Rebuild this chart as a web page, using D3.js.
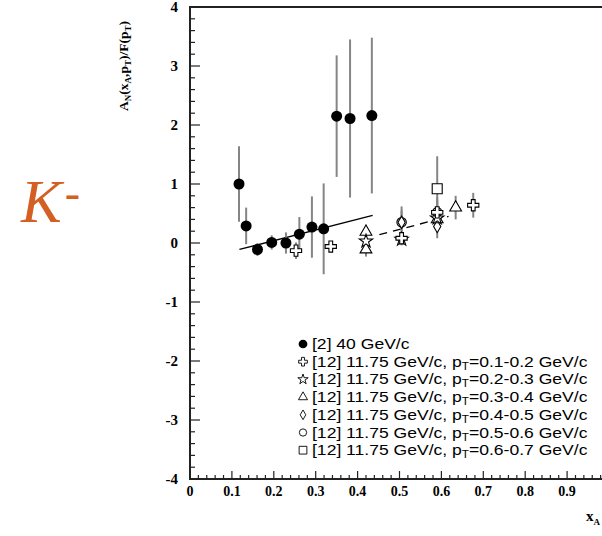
<!DOCTYPE html>
<html>
<head>
<meta charset="utf-8">
<script src="https://cdn.jsdelivr.net/npm/d3@7"></script>
<style>
  html, body { margin: 0; padding: 0; background: #fff; }
  svg { display: block; }
</style>
</head>
<body>
<svg id="chart" width="602" height="536"></svg>
<script>
// Axis domains and tick values
const xDomain = [0, 1];
const yDomain = [-4, 4];
const xTickLabels = ["0", "0.1", "0.2", "0.3", "0.4", "0.5", "0.6", "0.7", "0.8", "0.9"];
const yTickLabels = ["-4", "-3", "-2", "-1", "0", "1", "2", "3", "4"];

// [2] 40 GeV/c : x, A_N, error
const e704X   = [0.117, 0.134, 0.161, 0.195, 0.229, 0.261, 0.291, 0.319, 0.350, 0.382, 0.434];
const e704Y   = [1.00, 0.29, -0.11, 0.01, 0.00, 0.15, 0.27, 0.24, 2.15, 2.11, 2.16];
const e704Err = [0.64, 0.31, 0.11, 0.12, 0.18, 0.29, 0.52, 0.77, 1.03, 1.34, 1.32];

// [12] 11.75 GeV/c, one set per pT bin
const pt1X = [0.253, 0.336, 0.505, 0.590, 0.676];
const pt1Y = [-0.13, -0.06, 0.08, 0.52, 0.64];
const pt1E = [0.14, 0.06, 0.10, 0.20, 0.21];

const pt2X = [0.420, 0.505, 0.590];
const pt2Y = [0.03, 0.06, 0.42];
const pt2E = [0.10, 0.10, 0.20];

const pt3X = [0.420, 0.420, 0.590, 0.634];
const pt3Y = [0.19, -0.11, 0.40, 0.60];
const pt3E = [0.12, 0.12, 0.20, 0.20];

const pt4X = [0.505, 0.590];
const pt4Y = [0.35, 0.28];
const pt4E = [0.20, 0.20];

const pt5X = [0.505, 0.590];
const pt5Y = [0.35, 0.52];
const pt5E = [0.27, 0.25];

const pt6X = [0.590];
const pt6Y = [0.92];
const pt6E = [0.55];

// Linear fits: solid through the 40 GeV/c points, dashed through 11.75 GeV/c
const fitSolidX = [0.118, 0.436];
const fitSolidY = [-0.11, 0.47];
const fitDashX  = [0.452, 0.617];
const fitDashY  = [0.14, 0.45];

const legendLabels = [
  "[2] 40 GeV/c",
  "[12] 11.75 GeV/c, p|T|=0.1-0.2 GeV/c",
  "[12] 11.75 GeV/c, p|T|=0.2-0.3 GeV/c",
  "[12] 11.75 GeV/c, p|T|=0.3-0.4 GeV/c",
  "[12] 11.75 GeV/c, p|T|=0.4-0.5 GeV/c",
  "[12] 11.75 GeV/c, p|T|=0.5-0.6 GeV/c",
  "[12] 11.75 GeV/c, p|T|=0.6-0.7 GeV/c"
];

const svg = d3.select("#chart");
const plotL = 190, plotR = 609, plotT = 7, plotB = 479;
const x = d3.scaleLinear().domain(xDomain).range([plotL, plotR]);
const y = d3.scaleLinear().domain(yDomain).range([plotB, plotT]);

const serif = "'Liberation Serif', 'Times New Roman', serif";
const sans = "'Liberation Sans', Arial, Helvetica, sans-serif";

// Big K- label
const kLabel = svg.append("text")
  .attr("x", 21).attr("y", 222)
  .attr("font-family", serif)
  .attr("font-style", "italic")
  .attr("font-size", 61)
  .attr("fill", "#d35f22");
kLabel.append("tspan").text("K");
kLabel.append("tspan").attr("dx", 3).attr("dy", -14).attr("font-size", 46).attr("font-style", "normal").text("-");

// Frame: left, top, bottom
const frame = svg.append("g").attr("stroke", "#222").attr("stroke-width", 2).attr("fill", "none");
frame.append("line").attr("x1", plotL).attr("x2", plotL).attr("y1", plotT).attr("y2", plotB);
frame.append("line").attr("x1", plotL - 1).attr("x2", 602).attr("y1", plotT).attr("y2", plotT);
frame.append("line").attr("x1", plotL - 1).attr("x2", 602).attr("y1", plotB).attr("y2", plotB);

// Y axis ticks (inward) and labels
const yMinor = d3.range(-4, 4.001, 0.2);
svg.append("g").selectAll("line").data(yMinor).join("line")
  .attr("x1", plotL).attr("x2", d => plotL + (Math.abs(d - Math.round(d)) < 1e-6 ? 10 : 5))
  .attr("y1", d => y(d)).attr("y2", d => y(d))
  .attr("stroke", "#222").attr("stroke-width", 1.2);
svg.append("g").selectAll("text").data(yTickLabels).join("text")
  .attr("x", plotL - 12).attr("y", d => y(+d) + 5)
  .attr("text-anchor", "end")
  .attr("font-family", serif).attr("font-weight", "bold").attr("font-size", 15)
  .text(d => d);

// X axis ticks (inward) and labels
const xMinor = d3.range(0, 1.0001, 0.02);
svg.append("g").selectAll("line").data(xMinor).join("line")
  .attr("x1", d => x(d)).attr("x2", d => x(d))
  .attr("y1", plotB).attr("y2", (d, i) => plotB - (i % 5 === 0 ? 8 : 4))
  .attr("stroke", "#222").attr("stroke-width", 1.2);
svg.append("g").selectAll("text").data(xTickLabels).join("text")
  .attr("x", d => x(+d)).attr("y", 496)
  .attr("text-anchor", "middle")
  .attr("font-family", serif).attr("font-weight", "bold").attr("font-size", 14)
  .text(d => d);

// Axis titles
const xt = svg.append("text").attr("x", 586).attr("y", 521)
  .attr("font-family", serif).attr("font-weight", "bold").attr("font-size", 15);
xt.append("tspan").text("x");
xt.append("tspan").attr("dy", 4).attr("font-size", 9).text("A");

const yt = svg.append("text")
  .attr("transform", "translate(128,66) rotate(-90)")
  .attr("text-anchor", "middle")
  .attr("font-family", serif).attr("font-weight", "bold").attr("font-size", 13.5);
yt.append("tspan").text("A");
yt.append("tspan").attr("dy", 3).attr("font-size", 9).text("N");
yt.append("tspan").attr("dy", -3).text("(x");
yt.append("tspan").attr("dy", 3).attr("font-size", 9).text("A");
yt.append("tspan").attr("dy", -3).text(",p");
yt.append("tspan").attr("dy", 3).attr("font-size", 9).text("T");
yt.append("tspan").attr("dy", -3).text(")/F(p");
yt.append("tspan").attr("dy", 3).attr("font-size", 9).text("T");
yt.append("tspan").attr("dy", -3).text(")");

// Fit lines
const line = d3.line().x(d => x(d[0])).y(d => y(d[1]));
svg.append("path").datum(d3.zip(fitSolidX, fitSolidY)).attr("d", line)
  .attr("stroke", "#000").attr("stroke-width", 1.3).attr("fill", "none");
svg.append("path").datum(d3.zip(fitDashX, fitDashY)).attr("d", line)
  .attr("stroke", "#000").attr("stroke-width", 1.3).attr("fill", "none")
  .attr("stroke-dasharray", "8,6");

// Series definitions: symbol type and size
const series = [
  { xs: e704X, ys: e704Y, es: e704Err, type: d3.symbolCircle, size: 95, filled: true },
  { xs: pt1X, ys: pt1Y, es: pt1E, type: d3.symbolCross, size: 70 },
  { xs: pt2X, ys: pt2Y, es: pt2E, type: d3.symbolStar, size: 55 },
  { xs: pt3X, ys: pt3Y, es: pt3E, type: d3.symbolTriangle, size: 60 },
  { xs: pt4X, ys: pt4Y, es: pt4E, type: d3.symbolDiamond, size: 45 },
  { xs: pt5X, ys: pt5Y, es: pt5E, type: d3.symbolCircle, size: 70 },
  { xs: pt6X, ys: pt6Y, es: pt6E, type: d3.symbolSquare, size: 100 }
];

// Error bars first, then markers
const errG = svg.append("g");
const markG = svg.append("g");
series.forEach(s => {
  const pts = s.xs.map((v, i) => ({ x: v, y: s.ys[i], e: s.es[i] }));
  errG.selectAll(null).data(pts).join("line")
    .attr("x1", d => x(d.x)).attr("x2", d => x(d.x))
    .attr("y1", d => y(d.y + d.e)).attr("y2", d => y(d.y - d.e))
    .attr("stroke", "#858585").attr("stroke-width", 2);
});
series.slice().reverse().forEach(s => {
  const pts = s.xs.map((v, i) => ({ x: v, y: s.ys[i] }));
  markG.selectAll(null).data(pts).join("path")
    .attr("transform", d => `translate(${x(d.x)},${y(d.y)})`)
    .attr("d", d3.symbol().type(s.type).size(s.size))
    .attr("fill", s.filled ? "#000" : "#fff")
    .attr("stroke", "#000").attr("stroke-width", s.filled ? 0 : 1.1);
});

// Legend (text slightly widened horizontally)
const legend = svg.append("g");
const legY0 = 344, legDy = 17.7, legTextX = 312, legScaleX = 1.17;
series.forEach((s, i) => {
  const sz = s.filled ? 60 : s.size * 0.6;
  legend.append("path")
    .attr("transform", `translate(303,${legY0 + i * legDy})`)
    .attr("d", d3.symbol().type(s.type).size(sz))
    .attr("fill", s.filled ? "#000" : "#fff")
    .attr("stroke", "#000").attr("stroke-width", s.filled ? 0 : 0.9);
  const t = legend.append("text")
    .attr("transform", `translate(${legTextX},${legY0 + i * legDy + 5}) scale(${legScaleX},1)`)
    .attr("font-family", sans).attr("font-size", 15);
  const parts = legendLabels[i].split("|");
  if (parts.length === 1) {
    t.text(parts[0]);
  } else {
    t.append("tspan").text(parts[0]);
    t.append("tspan").attr("dy", 3).attr("font-size", 10).text(parts[1]);
    t.append("tspan").attr("dy", -3).text(parts[2]);
  }
});
</script>
</body>
</html>
